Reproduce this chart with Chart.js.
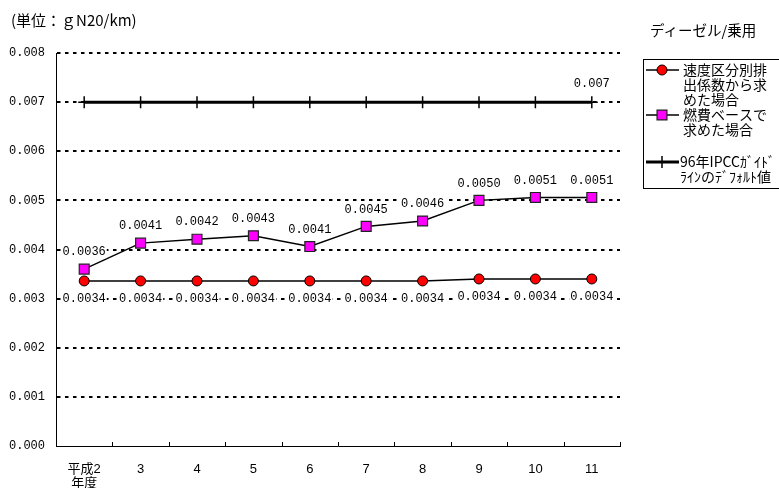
<!DOCTYPE html>
<html>
<head>
<meta charset="utf-8">
<script src="https://cdn.jsdelivr.net/npm/chart.js@4.4.0/dist/chart.umd.min.js"></script>
<style>
html, body { margin: 0; padding: 0; background: #fff; }
#wrap { position: relative; width: 779px; height: 488px; overflow: hidden; }
canvas { position: absolute; left: 0; top: 0; }
.txt { position: absolute; font-family: "Noto Sans CJK JP", sans-serif; color: #000; white-space: nowrap; line-height: 1; }
</style>
</head>
<body>
<div id="wrap">
  <canvas id="c" width="779" height="488"></canvas>
  <div class="txt" style="left:11px; top:12px; font-size:15px;">(単位：ｇN20/km)</div>
  <div class="txt" style="left:650px; top:23px; font-size:14.5px;">ディーゼル/乗用</div>
</div>
<script>
// Fiscal years (Heisei 2 .. 11)
const categories = [["平成2", "年度"], "3", "4", "5", "6", "7", "8", "9", "10", "11"];

// N2O emission factors, g N2O/km (diesel passenger cars)
const speedBased  = [0.00336, 0.00336, 0.00336, 0.00336, 0.00336, 0.00336, 0.00336, 0.0034, 0.0034, 0.0034];
const fuelBased   = [0.0036, 0.00413, 0.00421, 0.00428, 0.00406, 0.00447, 0.00458, 0.0050, 0.00506, 0.00506];
const ipccDefault = [0.007, 0.007, 0.007, 0.007, 0.007, 0.007, 0.007, 0.007, 0.007, 0.007];

// y-axis tick values
const yTicks = [0, 0.001, 0.002, 0.003, 0.004, 0.005, 0.006, 0.007, 0.008];

const seriesNames = ["速度区分別排出係数から求めた場合", "燃費ベースで求めた場合", "96年IPCCｶﾞｲﾄﾞﾗｲﾝのﾃﾞﾌｫﾙﾄ値"];
const legendLines = [
  ["速度区分別排", "出係数から求", "めた場合"],
  ["燃費ベースで", "求めた場合"],
  ["96年IPCCｶﾞｲﾄﾞ", "ﾗｲﾝのﾃﾞﾌｫﾙﾄ値"]
];

const NUM_FAMILY = '"Liberation Mono", monospace';
const NUM_FONT = '12px ' + NUM_FAMILY;
const JP_FONT = '14px "Noto Sans CJK JP", sans-serif';

// value labels with a white backing box
const valueLabels = {
  id: 'valueLabels',
  afterDatasetsDraw(chart) {
    const ctx = chart.ctx;
    ctx.save();
    ctx.font = NUM_FONT;
    ctx.textAlign = 'center';
    ctx.textBaseline = 'middle';
    chart.data.datasets.forEach((ds, di) => {
      const meta = chart.getDatasetMeta(di);
      meta.data.forEach((pt, i) => {
        if (ds.labelOnly && !ds.labelOnly.includes(i)) return;
        const text = ds.data[i].toFixed(ds.labelDigits);
        const w = ctx.measureText(text).width;
        const y = pt.y + ds.labelShift;
        ctx.fillStyle = '#fff';
        ctx.fillRect(pt.x - w / 2 - 1, y - 6, w + 2, 12);
        ctx.fillStyle = '#000';
        ctx.fillText(text, pt.x, y);
      });
    });
    ctx.restore();
  }
};

// inward tick marks on the category axis, between categories
const catTicks = {
  id: 'catTicks',
  afterDraw(chart) {
    const x = chart.scales.x;
    const ctx = chart.ctx;
    ctx.save();
    ctx.strokeStyle = '#000';
    ctx.lineWidth = 1;
    ctx.beginPath();
    for (let i = 1; i <= categories.length; i++) {
      const px = i < categories.length
        ? (x.getPixelForValue(i - 1) + x.getPixelForValue(i)) / 2
        : x.right;
      const xx = Math.round(px) + 0.5;
      ctx.moveTo(xx, x.top);
      ctx.lineTo(xx, x.top - 4);
    }
    ctx.stroke();
    ctx.restore();
  }
};

// boxed legend at the right
const sideLegend = {
  id: 'sideLegend',
  afterDraw(chart) {
    const ctx = chart.ctx;
    ctx.save();
    ctx.strokeStyle = '#000';
    ctx.lineWidth = 1;
    ctx.strokeRect(643.5, 59.5, 160, 129);
    const rows = [70, 115, 162];
    const lineGap = 15;
    chart.data.datasets.forEach((ds, di) => {
      const y = rows[di];
      ctx.strokeStyle = ds.borderColor;
      ctx.lineWidth = ds.borderWidth;
      ctx.beginPath();
      ctx.moveTo(646, y);
      ctx.lineTo(679, y);
      ctx.stroke();
      ctx.fillStyle = ds.pointBackgroundColor;
      ctx.strokeStyle = ds.pointBorderColor;
      ctx.lineWidth = ds.pointBorderWidth;
      ctx.beginPath();
      if (ds.pointStyle === 'circle') {
        ctx.arc(662, y, ds.pointRadius, 0, Math.PI * 2);
        ctx.fill(); ctx.stroke();
      } else if (ds.pointStyle === 'rect') {
        const s = ds.pointRadius * Math.SQRT1_2;
        ctx.rect(662 - s, y - s, 2 * s, 2 * s);
        ctx.fill(); ctx.stroke();
      } else {
        ctx.moveTo(662, y - ds.pointRadius);
        ctx.lineTo(662, y + ds.pointRadius);
        ctx.stroke();
      }
      ctx.fillStyle = '#000';
      ctx.font = JP_FONT;
      ctx.textAlign = 'left';
      ctx.textBaseline = 'middle';
      legendLines[di].forEach((t, k) => ctx.fillText(t, di === 2 ? 680 : 683, y + k * lineGap));
    });
    ctx.restore();
  }
};

new Chart(document.getElementById('c'), {
  type: 'line',
  data: {
    labels: categories,
    datasets: [
      {
        label: seriesNames[0],
        data: speedBased,
        borderColor: '#000',
        borderWidth: 1.5,
        pointStyle: 'circle',
        pointRadius: 5,
        pointBackgroundColor: '#ff0000',
        pointBorderColor: '#000',
        pointBorderWidth: 1,
        labelShift: 18,
        labelDigits: 4
      },
      {
        label: seriesNames[1],
        data: fuelBased,
        borderColor: '#000',
        borderWidth: 1.5,
        pointStyle: 'rect',
        pointRadius: 7,
        pointBackgroundColor: '#ff00ff',
        pointBorderColor: '#222',
        pointBorderWidth: 1.2,
        labelShift: -17,
        labelDigits: 4
      },
      {
        label: seriesNames[2],
        data: ipccDefault,
        borderColor: '#000',
        borderWidth: 3,
        pointStyle: 'cross',
        pointRadius: 6,
        pointBackgroundColor: '#000',
        pointBorderColor: '#000',
        pointBorderWidth: 1.5,
        labelShift: -18,
        labelDigits: 3,
        labelOnly: [9]
      }
    ]
  },
  options: {
    responsive: false,
    animation: false,
    events: [],
    layout: { padding: { top: 53, right: 159, left: 0, bottom: 0 } },
    plugins: { legend: { display: false }, tooltip: { enabled: false } },
    elements: { line: { tension: 0 } },
    scales: {
      x: {
        offset: true,
        grid: { display: false, offset: true },
        border: { display: true, color: '#000', width: 1 },
        ticks: {
          color: '#000',
          font: { family: '"Liberation Sans", "Noto Sans CJK JP", sans-serif', size: 13, lineHeight: 1.1 },
          padding: 8,
          maxRotation: 0,
          autoSkip: false
        },
        afterFit(s) { s.height = 42; }
      },
      y: {
        min: 0,
        max: 0.008,
        afterBuildTicks(s) { s.ticks = yTicks.map(v => ({ value: v })); },
        grid: {
          color: c => (c.tick && c.tick.value === 0) ? 'rgba(0,0,0,0)' : '#000',
          lineWidth: 2,
          drawTicks: false
        },
        border: { display: true, color: '#000', width: 1, dash: [3.5, 4.5] },
        ticks: {
          color: '#000',
          font: { family: NUM_FAMILY, size: 12 },
          padding: 11,
          callback: v => v.toFixed(3)
        },
        afterFit(s) { s.width = 56; }
      }
    }
  },
  plugins: [valueLabels, catTicks, sideLegend]
});
</script>
</body>
</html>
